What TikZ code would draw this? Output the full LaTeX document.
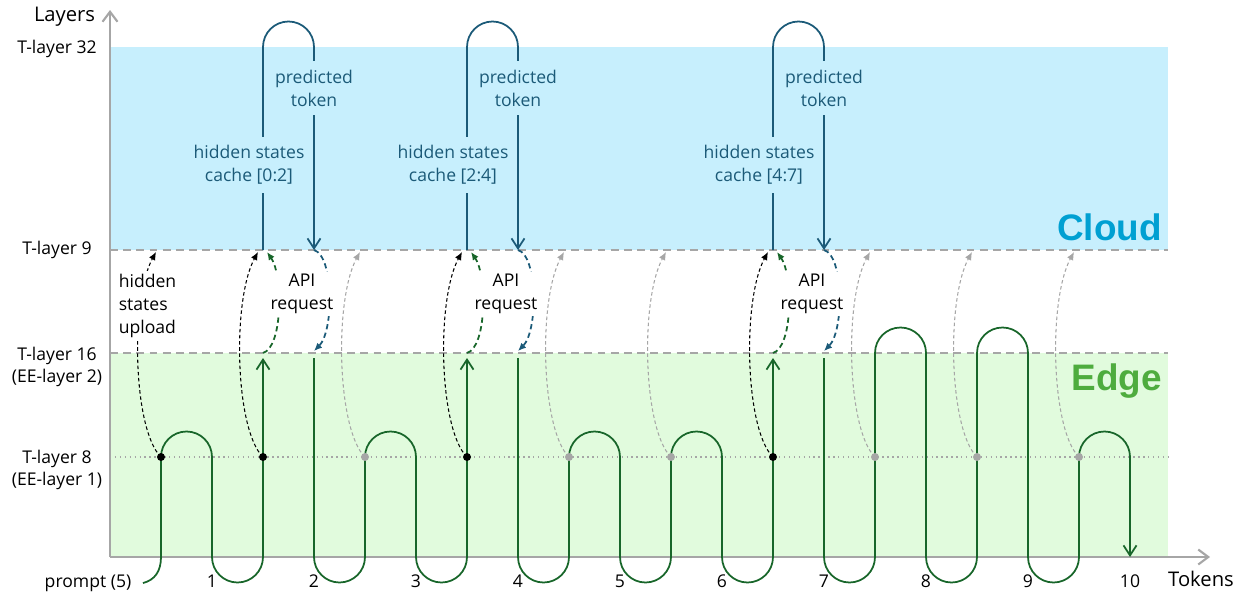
\documentclass[tikz,border=0pt]{standalone}
\usepackage{fontspec}
\setmainfont{Open Sans}
\newfontfamily\tagfont{Liberation Sans}
\usetikzlibrary{arrows.meta, calc}
\definecolor{cloudfill}{RGB}{199,239,253}
\definecolor{edgefill}{RGB}{225,251,221}
\definecolor{edgegreen}{RGB}{24,102,42}
\definecolor{cloudteal}{RGB}{27,90,120}
\definecolor{axisgray}{RGB}{166,166,166}
\definecolor{cloudtext}{RGB}{0,160,210}
\definecolor{edgetext}{RGB}{78,172,62}

\begin{document}
\begin{tikzpicture}[x=0.02cm, y=0.02cm, >=latex,
  vtip/.tip={Straight Barb[length=2mm,width=2.6mm]},
  hump/.style={insert path={arc[start angle=180,end angle=0,radius=25.5]}},
  dip/.style={insert path={arc[start angle=180,end angle=360,radius=25.5]}},
  edgepath/.style={edgegreen, line width=1pt},
  cloudpath/.style={cloudteal, line width=1pt},
  layerline/.style={axisgray, line width=1pt, dash pattern=on 4.5pt off 3pt},
  upload/.style={line width=0.6pt, dash pattern=on 2pt off 1.5pt, -{Latex[length=1.6mm,width=1.4mm]}},
  request/.style={line width=1pt, dash pattern=on 3pt off 2pt, -{Latex[length=1.6mm,width=1.4mm]}},
  statedot/.style={radius=4},
  lbl/.style={font=\fontsize{10}{13}\selectfont, align=center, inner sep=2pt},
  bigtag/.style={font=\tagfont\bfseries\fontsize{21}{21}\selectfont, anchor=base east, inner sep=0pt}]
\useasboundingbox (0,0) rectangle (1243,593);

\fill[cloudfill] (110,343) rectangle (1168,546);
\fill[edgefill] (110,36) rectangle (1168,240);
\draw[axisgray, dotted, line width=0.8pt] (110,136) -- (1168,136);
\draw[layerline] (110,343) -- (1168,343);
\draw[layerline] (110,240) -- (1168,240);
\draw[axisgray, line width=1.2pt, -{Straight Barb[length=2mm,width=3mm]}] (110,36) -- (110,583);
\draw[axisgray, line width=1.2pt, -{Straight Barb[length=2mm,width=3mm]}] (110,36) -- (1210,36);

\draw[edgepath,-vtip] (143,10) .. controls (155,13) and (161,22) .. (161,36) -- (161,136) [hump] -- (212,36) [dip] -- (263,235);
\draw[edgepath,-vtip] (314,235) -- (314,36) [dip] -- (365,136) [hump] -- (416,36) [dip] -- (467,235);
\draw[edgepath,-vtip] (518,235) -- (518,36) [dip] -- (569,136) [hump] -- (620,36) [dip] -- (671,136) [hump] -- (722,36) [dip] -- (773,235);
\draw[edgepath,-vtip] (824,235) -- (824,36) [dip] -- (875,240) [hump] -- (926,36) [dip] -- (977,240) [hump] -- (1028,36) [dip] -- (1079,136) [hump] -- (1130,36);

\foreach \x in {263,467,773}{
  \draw[cloudpath,-vtip] (\x,343) -- (\x,546) [hump] -- (\x+51,343);
  \draw[request, edgegreen] (\x,240) .. controls (\x+20,246) and (\x+20,318) .. (\x+4,341);
  \draw[request, cloudteal] (\x+51,343) .. controls (\x+71,337) and (\x+71,262) .. (\x+51,242);
}
\foreach \x in {365,569,671,875,977,1079}{
  \draw[upload, axisgray] (\x,136) .. controls (\x-28,163) and (\x-31,293) .. (\x-5,341);
  \fill[axisgray] (\x,136) circle[statedot];
}
\foreach \x in {161,263,467,773}{
  \draw[upload, black] (\x,136) .. controls (\x-28,163) and (\x-31,293) .. (\x-5,341);
  \fill (\x,136) circle[statedot];
}

\node[lbl, anchor=west, align=left, fill=white] (upload) at (115,287) {hidden\\states\\upload};
\foreach \x/\r [count=\k] in {263/0:2, 467/2:4, 773/4:7}{
  \node[lbl, text=cloudteal, fill=cloudfill, inner ysep=5pt] (cache\k) at (\x-14,428) {hidden states\\cache [\r]};
  \node[lbl, text=cloudteal, fill=cloudfill, inner ysep=5pt] (token\k) at (\x+51,505) {predicted\\token};
  \node[lbl, fill=white, inner sep=1pt] (api\k) at (\x+39,299) {API\\request};
}

\node[lbl, anchor=east, font=\fontsize{11.5}{13}\selectfont] (ylab) at (99,576) {Layers};
\node[lbl] (t32) at (57,544) {T-layer 32};
\node[lbl] (t9) at (57,343) {T-layer 9};
\node[lbl] (t16) at (57,226) {T-layer 16\\(EE-layer 2)};
\node[lbl] (t8) at (57,123) {T-layer 8\\(EE-layer 1)};
\node[lbl, anchor=base] (prompt) at (88,6) {prompt (5)};
\foreach \n in {1,...,10}
  \node[lbl, anchor=base] (tok\n) at ({161+51*(2*\n-1)},6) {\n};
\node[lbl, anchor=base, font=\fontsize{11.5}{13}\selectfont] (xlab) at (1201,7) {Tokens};

\node[bigtag, text=cloudtext] (cloud) at (1162,353) {Cloud};
\node[bigtag, text=edgetext] (edge) at (1162,203) {Edge};
\end{tikzpicture}
\end{document}
